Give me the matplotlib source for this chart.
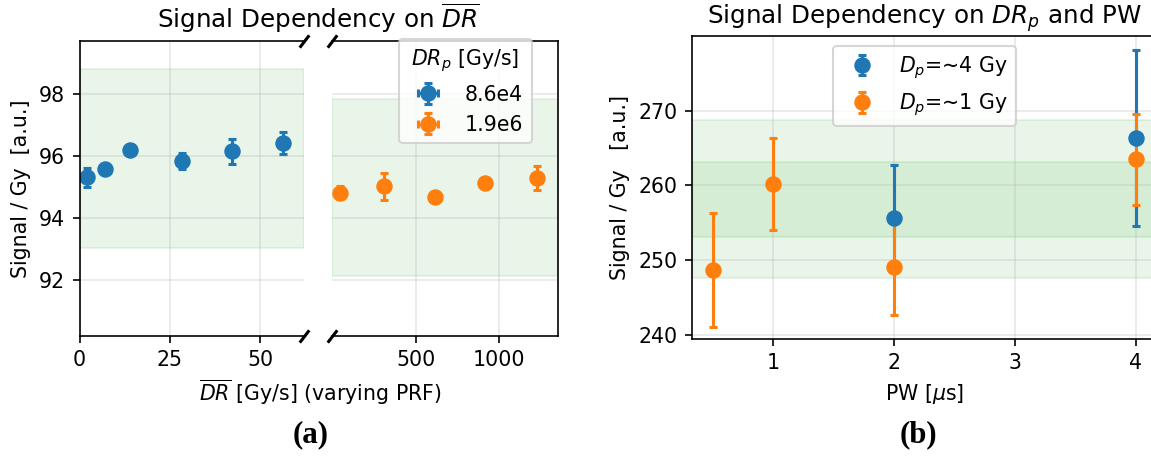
import numpy as np
import matplotlib
matplotlib.use("Agg")
import matplotlib.pyplot as plt

# (a) signal vs mean dose rate, two pulse dose rates
dr_low = [2.2, 7.1, 14.1, 28.3, 42.2, 56.4]
sig_low = [95.30, 95.58, 96.18, 95.83, 96.14, 96.41]
err_low = [0.30, 0.08, 0.06, 0.25, 0.40, 0.35]
xerr_low = [0.3, 0.3, 0.3, 0.3, 0.3, 0.3]

dr_high = [49, 308, 617, 918, 1226]
sig_high = [94.81, 95.01, 94.67, 95.11, 95.28]
err_high = [0.20, 0.42, 0.05, 0.08, 0.38]
xerr_high = [5, 5, 5, 5, 5]

legend_a = ["8.6e4", "1.9e6"]
band_frac = 0.03

# (b) signal vs pulse width
pw_4gy = [2, 4]
sig_4gy = [255.7, 266.3]
err_4gy = [7.0, 11.75]

pw_1gy = [0.5, 1, 2, 4]
sig_1gy = [248.7, 260.2, 249.15, 263.5]
err_1gy = [7.6, 6.2, 6.5, 6.1]

band_outer = (247.7, 268.8)
band_inner = (253.15, 263.15)

W, H, DPI = 1151, 459, 148
fig = plt.figure(figsize=(W / DPI, H / DPI), dpi=DPI)


def box(l, t, r, b):
    return [l / W, (H - b) / H, (r - l) / W, (b - t) / H]


ax1 = fig.add_axes(box(79.5, 40.7, 303.7, 336))
ax2 = fig.add_axes(box(332.2, 40.7, 557.5, 336), sharey=ax1)
ax3 = fig.add_axes(box(691.8, 35.7, 1157, 339))

ekw = dict(fmt="o", ms=7, capsize=2, elinewidth=1.5, capthick=1.5)

for ax, x, y, e, xe, c, lab in [
    (ax1, dr_low, sig_low, err_low, xerr_low, "tab:blue", legend_a[0]),
    (ax2, dr_high, sig_high, err_high, xerr_high, "tab:orange", legend_a[1]),
]:
    m = np.mean(y)
    ax.axhspan(m * (1 - band_frac), m * (1 + band_frac), color="tab:green", alpha=0.1)
    ax.errorbar(x, y, yerr=e, xerr=xe, color=c, label=lab, **ekw)
    ax.grid(alpha=0.3)

h1, l1 = ax1.get_legend_handles_labels()
h2, l2 = ax2.get_legend_handles_labels()

ax1.set_xlim(0, 62)
ax2.set_xlim(0, 1350)
ax1.set_ylim(90.2, 99.7)
ax1.set_yticks([92, 94, 96, 98])
ax1.set_xticks([0, 25, 50])
ax2.set_xticks([500, 1000])
ax1.spines["right"].set_visible(False)
ax2.spines["left"].set_visible(False)
ax2.tick_params(left=False, labelleft=False)
ax1.set_ylabel("Signal / Gy  [a.u.]")

# broken axis marks
kw = dict(marker=[(-1, -1.3), (1, 1.3)], markersize=6, linestyle="none",
          color="k", mec="k", mew=1.5, clip_on=False)
ax1.plot([1, 1], [0, 1], transform=ax1.transAxes, **kw)
ax2.plot([0, 0], [0, 1], transform=ax2.transAxes, **kw)

ax2.legend(h1 + h2, l1 + l2, title="$DR_p$ [Gy/s]", loc="upper right",
           bbox_to_anchor=(531.7 / W, (H - 39.3) / H),
           bbox_transform=fig.transFigure, borderaxespad=0)

fig.text(318.5 / W, (H - 28.3) / H, "Signal Dependency on $\\overline{DR}$",
         ha="center", va="baseline", fontsize=12)
fig.text(320 / W, (H - 392) / H, "$\\overline{DR}$ [Gy/s] (varying PRF)",
         ha="center", va="center")

# panel b
ax3.axhspan(*band_outer, color="tab:green", alpha=0.1)
ax3.axhspan(*band_inner, color="tab:green", alpha=0.1)
ax3.errorbar(pw_4gy, sig_4gy, yerr=err_4gy, color="tab:blue",
             label="$D_p$=∼4 Gy", **ekw)
ax3.errorbar(pw_1gy, sig_1gy, yerr=err_1gy, color="tab:orange",
             label="$D_p$=∼1 Gy", **ekw)
ax3.grid(alpha=0.3)
ax3.set_xlim(0.325, 4.175)
ax3.set_ylim(239.5, 280)
ax3.set_xticks([1, 2, 3, 4])
ax3.set_yticks([240, 250, 260, 270])
ax3.set_xlabel("PW [$\\mu$s]")
ax3.set_ylabel("Signal / Gy   [a.u.]")
ax3.set_title("Signal Dependency on $DR_p$ and PW", fontsize=12)
ax3.legend(loc="upper center")

fig.text(311 / W, (H - 435) / H, "(a)", fontfamily="Liberation Serif",
         fontweight="bold", fontsize=15, ha="center", va="center")
fig.text(918.7 / W, (H - 435) / H, "(b)", fontfamily="Liberation Serif",
         fontweight="bold", fontsize=15, ha="center", va="center")

fig.savefig("out.png", dpi=DPI)
